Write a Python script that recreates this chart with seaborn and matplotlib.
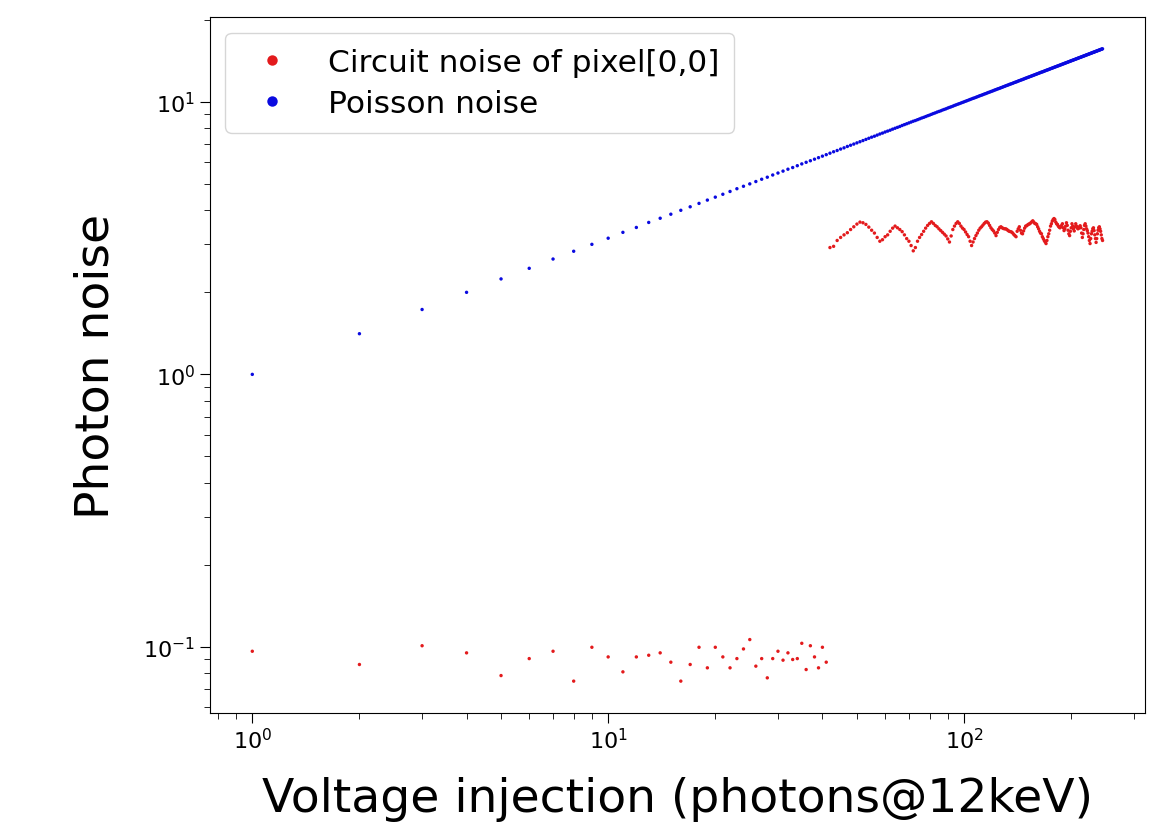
import numpy as np
import pandas as pd
import matplotlib
matplotlib.use("Agg")
import matplotlib.pyplot as plt
from matplotlib.lines import Line2D
import seaborn as sns

# ---- data ----
injection = list(range(1, 246))  # photons@12keV, 1..245

circuit_low = [0.0964, 0.0862, 0.101, 0.0951, 0.0785, 0.0906, 0.0964, 0.0749, 0.0997, 0.0919,
               0.081, 0.0919, 0.0932, 0.0951, 0.0879, 0.0749, 0.0862, 0.0997, 0.0838, 0.0997,
               0.0919, 0.0838, 0.0906, 0.0983, 0.1064, 0.0850, 0.0906, 0.077, 0.0906, 0.0964,
               0.0894, 0.0951, 0.0899, 0.0906, 0.1031, 0.0826, 0.101, 0.0919, 0.0838, 0.0997,
               0.0879]

circuit_high = [2.92, 2.95, 3.10, 3.18, 3.25, 3.31, 3.40, 3.48, 3.56, 3.62,
                3.60, 3.55, 3.47, 3.38, 3.30, 3.18, 3.08, 3.12, 3.20, 3.25,
                3.35, 3.44, 3.50, 3.45, 3.40, 3.34, 3.25, 3.15, 3.08, 2.97,
                2.84, 2.92, 3.08, 3.18, 3.26, 3.35, 3.44, 3.52, 3.58, 3.63,
                3.58, 3.52, 3.48, 3.42, 3.37, 3.32, 3.27, 3.22, 3.14, 3.06,
                3.22, 3.40, 3.50, 3.58, 3.63, 3.58, 3.50, 3.44, 3.40, 3.33,
                3.26, 3.20, 3.08, 2.97, 3.06, 3.15, 3.23, 3.30, 3.38, 3.44,
                3.48, 3.53, 3.58, 3.62, 3.63, 3.59, 3.52, 3.45, 3.40, 3.36,
                3.30, 3.23, 3.32, 3.40, 3.46, 3.48, 3.45, 3.43, 3.42, 3.42,
                3.40, 3.37, 3.35, 3.34, 3.33, 3.30, 3.26, 3.23, 3.20, 3.35,
                3.42, 3.48, 3.38, 3.30, 3.28, 3.36, 3.44, 3.50, 3.51, 3.54,
                3.56, 3.57, 3.60, 3.63, 3.66, 3.62, 3.58, 3.57, 3.55, 3.48,
                3.42, 3.35, 3.30, 3.28, 3.20, 3.15, 3.10, 3.06, 3.02, 3.10,
                3.20, 3.28, 3.38, 3.50, 3.57, 3.65, 3.70, 3.73, 3.70, 3.62,
                3.57, 3.55, 3.50, 3.47, 3.45, 3.48, 3.52, 3.57, 3.45, 3.37,
                3.42, 3.50, 3.60, 3.52, 3.38, 3.28, 3.23, 3.35, 3.45, 3.57,
                3.50, 3.42, 3.36, 3.48, 3.57, 3.50, 3.45, 3.42, 3.44, 3.48,
                3.51, 3.45, 3.30, 3.18, 3.28, 3.40, 3.52, 3.57, 3.50, 3.42,
                3.37, 3.30, 3.20, 3.10, 3.02, 3.15, 3.28, 3.35, 3.42, 3.45,
                3.37, 3.25, 3.15, 3.05, 3.15, 3.28, 3.38, 3.45, 3.48, 3.42,
                3.35, 3.25, 3.15, 3.10]

circuit_noise = circuit_low + circuit_high

poisson_noise = [1.00, 1.41, 1.73, 2.00, 2.24, 2.45, 2.65, 2.83, 3.00, 3.16,
                 3.32, 3.46, 3.61, 3.74, 3.87, 4.00, 4.12, 4.24, 4.36, 4.47,
                 4.58, 4.69, 4.80, 4.90, 5.00, 5.10, 5.20, 5.29, 5.39, 5.48,
                 5.57, 5.66, 5.74, 5.83, 5.92, 6.00, 6.08, 6.16, 6.24, 6.32,
                 6.40, 6.48, 6.56, 6.63, 6.71, 6.78, 6.86, 6.93, 7.00, 7.07,
                 7.14, 7.21, 7.28, 7.35, 7.42, 7.48, 7.55, 7.62, 7.68, 7.75,
                 7.81, 7.87, 7.94, 8.00, 8.06, 8.12, 8.19, 8.25, 8.31, 8.37,
                 8.43, 8.49, 8.54, 8.60, 8.66, 8.72, 8.77, 8.83, 8.89, 8.94,
                 9.00, 9.06, 9.11, 9.17, 9.22, 9.27, 9.33, 9.38, 9.43, 9.49,
                 9.54, 9.59, 9.64, 9.70, 9.75, 9.80, 9.85, 9.90, 9.95, 10.00,
                 10.05, 10.10, 10.15, 10.20, 10.25, 10.30, 10.34, 10.39, 10.44, 10.49,
                 10.54, 10.58, 10.63, 10.68, 10.72, 10.77, 10.82, 10.86, 10.91, 10.95,
                 11.00, 11.05, 11.09, 11.14, 11.18, 11.22, 11.27, 11.31, 11.36, 11.40,
                 11.45, 11.49, 11.53, 11.58, 11.62, 11.66, 11.70, 11.75, 11.79, 11.83,
                 11.87, 11.92, 11.96, 12.00, 12.04, 12.08, 12.12, 12.17, 12.21, 12.25,
                 12.29, 12.33, 12.37, 12.41, 12.45, 12.49, 12.53, 12.57, 12.61, 12.65,
                 12.69, 12.73, 12.77, 12.81, 12.85, 12.88, 12.92, 12.96, 13.00, 13.04,
                 13.08, 13.11, 13.15, 13.19, 13.23, 13.27, 13.30, 13.34, 13.38, 13.42,
                 13.45, 13.49, 13.53, 13.56, 13.60, 13.64, 13.67, 13.71, 13.75, 13.78,
                 13.82, 13.86, 13.89, 13.93, 13.96, 14.00, 14.04, 14.07, 14.11, 14.14,
                 14.18, 14.21, 14.25, 14.28, 14.32, 14.35, 14.39, 14.42, 14.46, 14.49,
                 14.53, 14.56, 14.59, 14.63, 14.66, 14.70, 14.73, 14.76, 14.80, 14.83,
                 14.87, 14.90, 14.93, 14.97, 15.00, 15.03, 15.07, 15.10, 15.13, 15.17,
                 15.20, 15.23, 15.26, 15.30, 15.33, 15.36, 15.39, 15.43, 15.46, 15.49,
                 15.52, 15.56, 15.59, 15.62, 15.65]

series_names = ["Circuit noise of pixel[0,0]", "Poisson noise"]
series_colors = ["#e31a1c", "#0a0ae0"]

# ---- build long table ----
df = pd.concat([
    pd.DataFrame({"x": injection, "y": circuit_noise, "series": series_names[0]}),
    pd.DataFrame({"x": injection, "y": poisson_noise, "series": series_names[1]}),
], ignore_index=True)

fig = plt.figure(figsize=(11.72, 8.28), dpi=100)
ax = fig.add_axes([0.179, 0.138, 0.798, 0.840])

sns.scatterplot(data=df, x="x", y="y", hue="series",
                palette=dict(zip(series_names, series_colors)),
                s=6, linewidth=0, legend=False, ax=ax)

ax.set_xscale("log")
ax.set_yscale("log")
ax.set_xlabel("Voltage injection (photons@12keV)", fontsize=34, labelpad=17)
ax.set_ylabel("Photon noise", fontsize=34, labelpad=18)
ax.tick_params(which="major", labelsize=16, length=7)
ax.tick_params(which="minor", length=4.3)

handles = [Line2D([], [], linestyle="none", marker="o", markersize=7.5,
                  markerfacecolor=c, markeredgewidth=0, label=n)
           for n, c in zip(series_names, series_colors)]
ax.legend(handles=handles, loc="upper left", fontsize=22.5, handletextpad=0.8,
          borderaxespad=0.5, labelspacing=0.38, borderpad=0.48)

fig.savefig("out.png", dpi=100)
